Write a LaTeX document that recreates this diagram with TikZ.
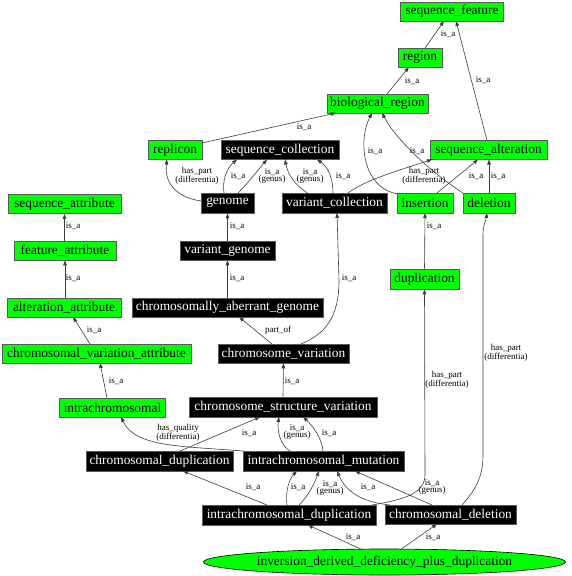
\documentclass[tikz,border=0pt]{standalone}
\usepackage{fontspec}
\setmainfont{Liberation Serif}
\usetikzlibrary{arrows.meta,calc,shapes.geometric}
\definecolor{ngreen}{RGB}{0,255,0}
\definecolor{nborder}{RGB}{90,90,90}
\definecolor{ecol}{RGB}{60,60,60}
\tikzset{
  gbox/.style={draw=nborder,fill=ngreen,line width=0.8pt,inner sep=0pt,minimum height=19pt,text=black,font=\fontsize{13.4}{14}\selectfont},
  bbox/.style={draw=nborder,fill=black,line width=0.8pt,inner sep=0pt,minimum height=19pt,text=white,font=\fontsize{13.4}{14}\selectfont},
  edge/.style={draw=ecol,line width=0.6pt,-{Triangle[length=5pt,width=3.6pt]}},
  elab/.style={font=\fontsize{9}{7.5}\selectfont,align=center,inner sep=0pt,text=black}
}
\begin{document}
\begin{tikzpicture}[x=1pt,y=-1pt]
\useasboundingbox (0,0) rectangle (571,576);
% nodes
\node[gbox,minimum width=103pt] (sf) at (452,11.5) {sequence\_feature};
\node[gbox,minimum width=44pt] (region) at (420,57.5) {region};
\node[gbox,minimum width=101pt] (bioreg) at (377.5,103.5) {biological\_region};
\node[gbox,minimum width=54pt] (replicon) at (175,150) {replicon};
\node[bbox,minimum width=118pt] (seqcoll) at (280,150) {sequence\_collection};
\node[gbox,minimum width=117pt] (seqalt) at (488.5,150) {sequence\_alteration};
\node[bbox,minimum width=53pt,minimum height=20pt] (genome) at (227.5,203) {genome};
\node[bbox,minimum width=105pt,minimum height=20pt] (varcoll) at (334.5,203) {variant\_collection};
\node[gbox,minimum width=56pt,minimum height=20pt] (insertion) at (425,203) {insertion};
\node[gbox,minimum width=52pt,minimum height=20pt] (deletion) at (489,203) {deletion};
\node[gbox,minimum width=113pt] (seqattr) at (64.5,204) {sequence\_attribute};
\node[gbox,minimum width=102pt] (featattr) at (65,250.5) {feature\_attribute};
\node[gbox,minimum width=114pt] (altattr) at (64,307.5) {alteration\_attribute};
\node[gbox,minimum width=189pt] (cva) at (96.5,353.5) {chromosomal\_variation\_attribute};
\node[bbox,minimum width=95pt] (vargenome) at (227.5,250.5) {variant\_genome};
\node[bbox,minimum width=191pt] (cag) at (227.5,307.5) {chromosomally\_aberrant\_genome};
\node[bbox,minimum width=131pt] (chromvar) at (283.5,353.5) {chromosome\_variation};
\node[gbox,minimum width=69pt,minimum height=20pt] (duplication) at (424.5,279) {duplication};
\node[gbox,minimum width=106pt] (intrachrom) at (112.5,407.5) {intrachromosomal};
\node[bbox,minimum width=188pt,minimum height=20pt] (csv) at (283,407) {chromosome\_structure\_variation};
\node[bbox,minimum width=147pt,minimum height=20pt] (chromdup) at (159.5,461) {chromosomal\_duplication};
\node[bbox,minimum width=161pt,minimum height=20pt] (icm) at (323.5,461) {intrachromosomal\_mutation};
\node[bbox,minimum width=174pt,minimum height=20pt] (icd) at (289,515) {intrachromosomal\_duplication};
\node[bbox,minimum width=131pt] (chromdel) at (450.5,514.5) {chromosomal\_deletion};
\node[ellipse,draw=black,fill=ngreen,line width=0.6pt,inner sep=0pt,minimum width=362pt,minimum height=26pt,font=\fontsize{13.4}{14}\selectfont] (idd) at (384.5,562) {inversion\_derived\_deficiency\_plus\_duplication};
% edges
\draw[edge] ($(region)+(5,-9.5)$) -- ($(sf)+(-8,9.5)$);
\node[elab] (l1) at (448,34) {is\_a};
\draw[edge] ($(seqalt)+(-1.5,-9.5)$) -- ($(sf)+(4,9.5)$);
\node[elab] (l2) at (483,80) {is\_a};
\draw[edge] ($(bioreg)+(9.5,-9.5)$) -- ($(region)+(-11,9.5)$);
\node[elab] (l3) at (412,81) {is\_a};
\draw[edge] ($(replicon)+(27,-7)$) -- ($(bioreg)+(-41.5,9.5)$);
\node[elab] (l4) at (304,127) {is\_a};
\draw[edge] ($(genome)+(-26.5,-2)$) .. controls (180,198) and (164,186) .. ($(replicon)+(-8,9.5)$);
\node[elab] (l5) at (197,176) {has\_part\\(differentia)};
\draw[edge] ($(genome)+(-3.5,-10)$) .. controls (222,180) and (227,168) .. ($(seqcoll)+(-43,9.5)$);
\node[elab] (l6) at (238,176) {is\_a};
\draw[edge] ($(genome)+(10.5,-10)$) .. controls (248,183) and (258,170) .. ($(seqcoll)+(-13,9.5)$);
\node[elab] (l7) at (272,176) {is\_a\\(genus)};
\draw[edge] ($(varcoll)+(-26.5,-9.5)$) .. controls (295,185) and (288,175) .. ($(seqcoll)+(5,9.5)$);
\node[elab] (l8) at (310,176) {is\_a\\(genus)};
\draw[edge] ($(varcoll)+(-1.5,-10)$) .. controls (333,178) and (328,167) .. ($(seqcoll)+(37,9.5)$);
\node[elab] (l9) at (343,176) {is\_a};
\draw[edge] ($(varcoll)+(13.5,-10)$) .. controls (365,180) and (400,170) .. ($(seqalt)+(-56.5,9.5)$);
\node[elab] (l10) at (424,176) {has\_part\\(differentia)};
\draw[edge] ($(insertion)+(-27,-9)$) .. controls (362,188) and (358,140) .. ($(bioreg)+(-5.5,9.5)$);
\node[elab] (l11) at (375,151) {is\_a};
\draw[edge] ($(deletion)+(-26,-10)$) .. controls (430,172) and (395,138) .. ($(bioreg)+(4.5,9.5)$);
\node[elab] (l12) at (417,151) {is\_a};
\draw[edge] ($(insertion)+(12,-10)$) -- ($(seqalt)+(-10.5,9.5)$);
\node[elab] (l13) at (476,176) {is\_a};
\draw[edge] ($(deletion)+(0,-10)$) -- ($(seqalt)+(0.5,9.5)$);
\node[elab] (l14) at (498,176) {is\_a};
\draw[edge] (vargenome.north) -- (genome.south);
\node[elab] (l15) at (237,226) {is\_a};
\draw[edge] (cag.north) -- (vargenome.south);
\node[elab] (l16) at (237,278) {is\_a};
\draw[edge] ($(chromvar)+(-11.5,-9.5)$) -- ($(cag)+(11.5,9.5)$);
\node[elab] (l17) at (278,330) {part\_of};
\draw[edge] ($(chromvar)+(17.5,-9.5)$) .. controls (325,334) and (339,318) .. ($(varcoll)+(4.5,77)$) -- ($(varcoll)+(2.5,10)$);
\node[elab] (l18) at (349,278) {is\_a};
\draw[edge] ($(featattr)+(-0.5,-9.5)$) -- (seqattr.south);
\node[elab] (l19) at (73,226) {is\_a};
\draw[edge] ($(altattr)+(1,-9.5)$) -- (featattr.south);
\node[elab] (l20) at (73,278) {is\_a};
\draw[edge] ($(cva)+(-6.5,-9.5)$) -- ($(altattr)+(9,9.5)$);
\node[elab] (l21) at (94,330) {is\_a};
\draw[edge] ($(intrachrom)+(-5.5,-9.5)$) -- ($(cva)+(3.5,9.5)$);
\node[elab] (l22) at (116,381) {is\_a};
\draw[edge] (csv.north) -- (chromvar.south);
\node[elab] (l23) at (292,381) {is\_a};
\draw[edge] (duplication.north) -- ($(insertion)+(0,10)$);
\node[elab] (l24) at (434,226) {is\_a};
\draw[edge] ($(icm)+(-80.5,-10)$) .. controls (180,446) and (135,447) .. ($(intrachrom)+(8.5,9.5)$);
\node[elab] (l25) at (178,433) {has\_quality\\(differentia)};
\draw[edge] ($(chromdup)+(20.5,-10)$) -- ($(csv)+(-23,10)$);
\node[elab] (l26) at (249,433) {is\_a};
\draw[edge] ($(icm)+(-33.5,-10)$) .. controls (280,445) and (277,430) .. ($(csv)+(-4,10)$);
\node[elab] (l27) at (297,432) {is\_a\\(genus)};
\draw[edge] ($(icm)+(-0.5,-10)$) .. controls (322,438) and (312,425) .. ($(csv)+(20,10)$);
\node[elab] (l28) at (329,433) {is\_a};
\draw[edge] ($(icd)+(-22,-10)$) -- ($(chromdup)+(23.5,10)$);
\node[elab] (l29) at (253,487) {is\_a};
\draw[edge] ($(icd)+(-2,-10)$) .. controls (285,490) and (290,478) .. ($(icm)+(-26.5,10)$);
\node[elab] (l30) at (298,487) {is\_a};
\draw[edge] ($(icd)+(10,-10)$) .. controls (308,497) and (315,482) .. ($(icm)+(-4.5,10)$);
\node[elab] (l31) at (330,488) {is\_a\\(genus)};
\draw[edge] ($(chromdel)+(-60.5,-9.5)$) .. controls (362,502) and (346,492) .. ($(icm)+(13.5,10)$);
\node[elab] (l32) at (368,487) {is\_a};
\draw[edge] ($(chromdel)+(-18.5,-9.5)$) -- ($(icm)+(31.5,10)$);
\node[elab] (l33) at (432,487) {is\_a\\(genus)};
\draw[edge] ($(icd)+(83,-10)$) .. controls (400,500) and (425,495) .. ($(duplication)+(0.5,196)$) -- (duplication.south);
\node[elab] (l34) at (447,380) {has\_part\\(differentia)};
\draw[edge] ($(chromdel)+(11.5,-9.5)$) .. controls (475,490) and (483,478) .. ($(deletion)+(-6,252)$) -- ($(deletion)+(-6,32)$) .. controls ($(deletion)+(-6,22)$) and ($(deletion)+(-3,17)$) .. ($(deletion)+(-2,10)$);
\node[elab] (l35) at (506,353) {has\_part\\(differentia)};
\draw[edge] ($(idd)+(-21.5,-12)$) -- ($(icd)+(19,10)$);
\node[elab] (l36) at (353,537) {is\_a};
\draw[edge] ($(idd)+(15.5,-12)$) -- ($(chromdel)+(-13.5,9.5)$);
\node[elab] (l37) at (433,537) {is\_a};
\end{tikzpicture}
\end{document}
